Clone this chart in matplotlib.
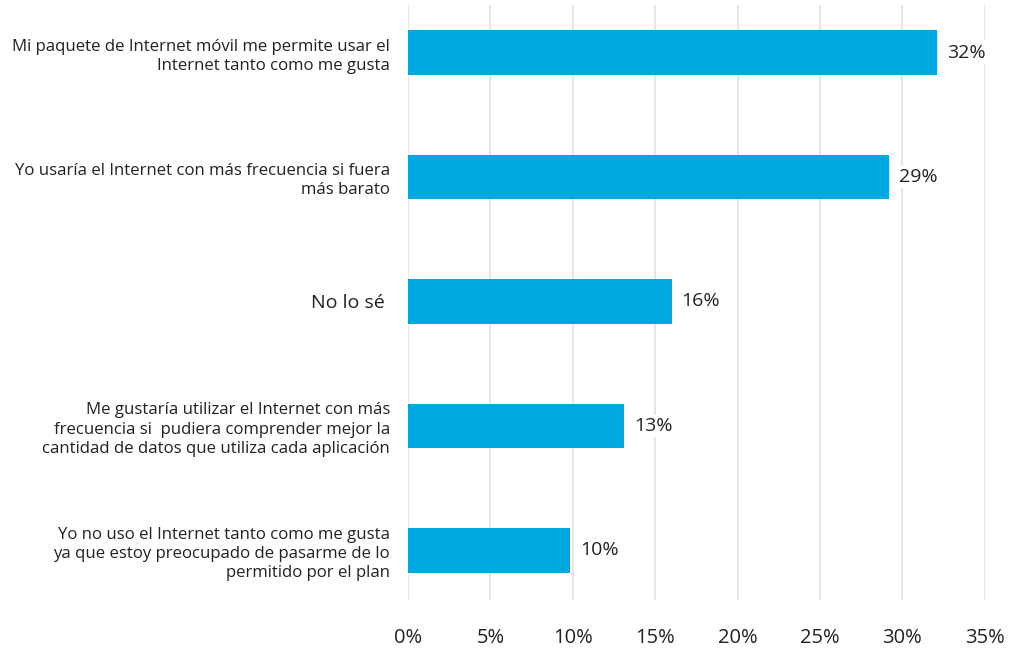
import matplotlib.pyplot as plt

# Data
categories = [
    'Mi paquete de Internet móvil me permite usar el\nInternet tanto como me gusta',
    'Yo usaría el Internet con más frecuencia si fuera\nmás barato',
    'No lo sé ',
    'Me gustaría utilizar el Internet con más\nfrecuencia si  pudiera comprender mejor la\ncantidad de datos que utiliza cada aplicación',
    'Yo no uso el Internet tanto como me gusta\nya que estoy preocupado de pasarme de lo\npermitido por el plan',
]
values = [32.1, 29.2, 16.0, 13.1, 9.85]
value_labels = ['32%', '29%', '16%', '13%', '10%']
xticks = [0, 5, 10, 15, 20, 25, 30, 35]
xtick_labels = ['0%', '5%', '10%', '15%', '20%', '25%', '30%', '35%']

plt.rcParams['font.family'] = ['Open Sans', 'DejaVu Sans']

fig = plt.figure(figsize=(10.09, 6.51), dpi=100)
ax = fig.add_axes([0.4044, 0.078, 0.5716, 0.914])

y = list(range(len(categories)))
ax.barh(y, values, height=0.355, color='#00a8e2', zorder=2)

# Value labels with white box
for yi, v, lab in zip(y, values, value_labels):
    ax.text(v + 0.6, yi, lab, va='center', ha='left', fontsize=14, color='#222222',
            bbox=dict(facecolor='white', edgecolor='none', pad=1.5), zorder=3)

ax.set_yticks(y)
ax.set_yticklabels(categories, fontsize=12.1, color='#222222', linespacing=1.28)
ax.set_xticks(xticks)
ax.set_xticklabels(xtick_labels, fontsize=14.5, color='#222222')
ax.set_xlim(0, 35)
ax.set_ylim(4.4, -0.38)

ax.tick_params(axis='both', length=0)
ax.tick_params(axis='x', pad=20)
ax.tick_params(axis='y', pad=13)
ax.grid(axis='x', color='#e6e6e6', linewidth=1.5, zorder=0)
ax.set_axisbelow(True)
for s in ax.spines.values():
    s.set_visible(False)

for lbl in ax.get_yticklabels():
    lbl.set_multialignment('right')
ax.get_yticklabels()[2].set_fontsize(14)

plt.savefig('out.png', dpi=100)
